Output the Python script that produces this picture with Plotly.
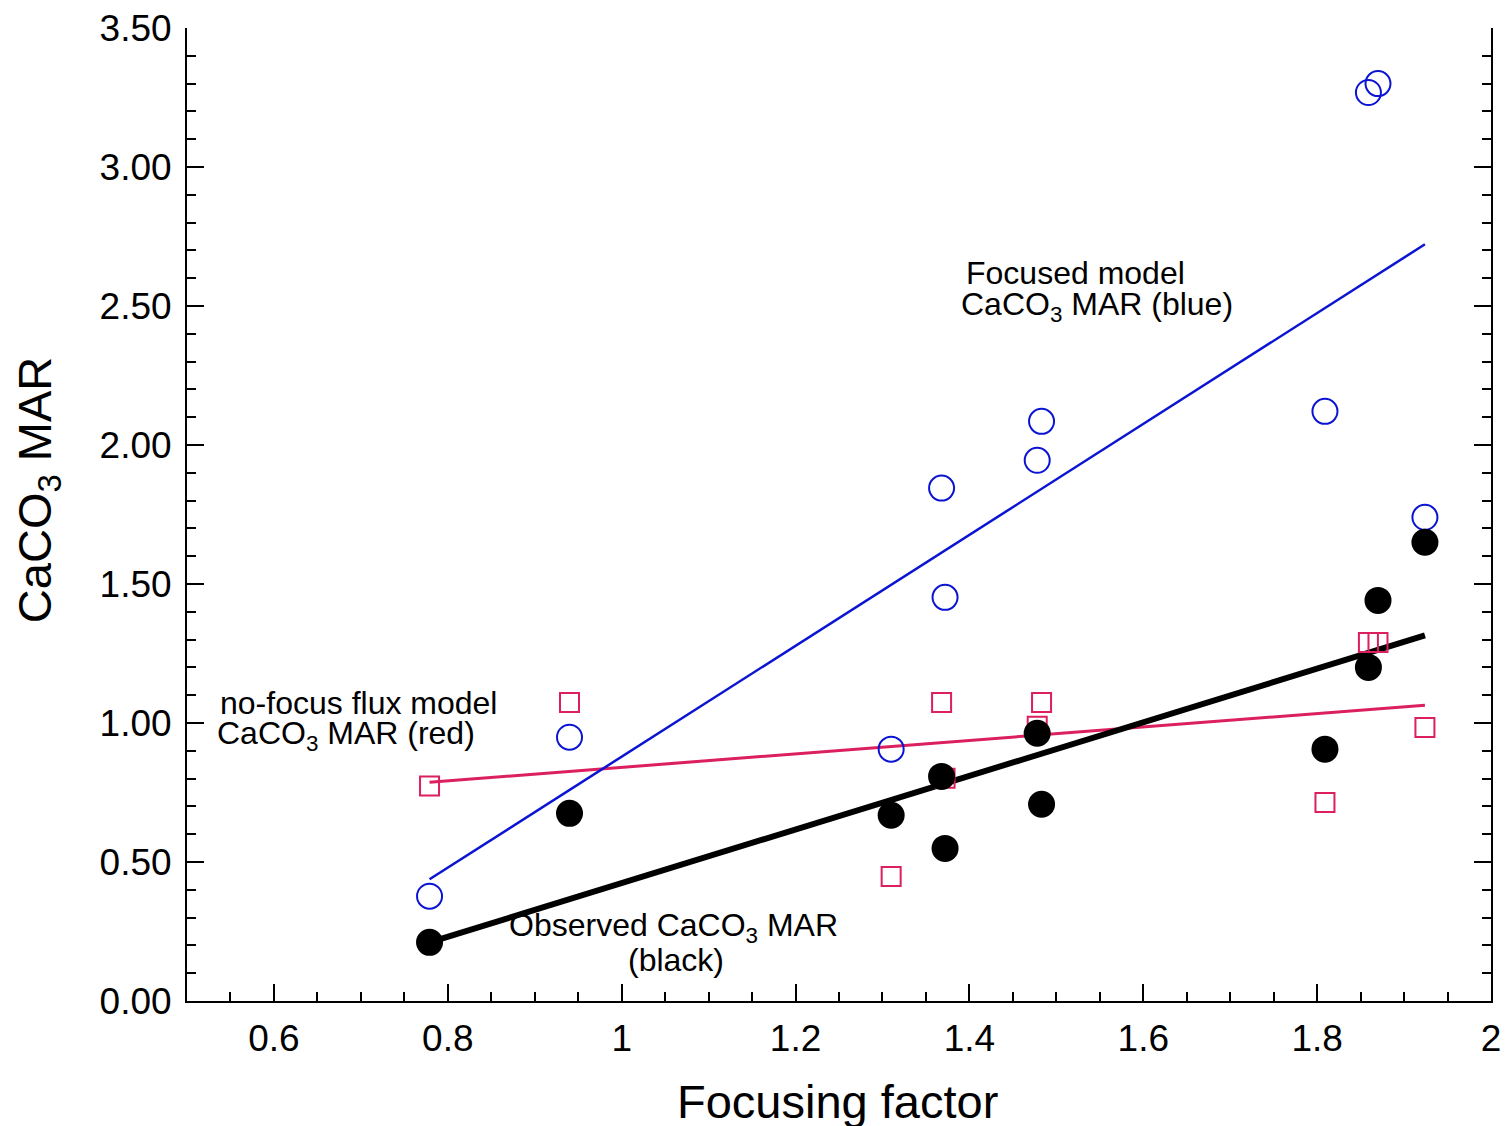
import plotly.graph_objects as go

# ---- data ----
focusing_factor = [0.779, 0.940, 1.310, 1.368, 1.372, 1.478, 1.483, 1.809, 1.859, 1.870, 1.924]
observed_mar = [0.211, 0.675, 0.668, 0.808, 0.549, 0.963, 0.708, 0.906, 1.200, 1.441, 1.650]
focused_model_mar = [0.377, 0.949, 0.906, 1.845, 1.452, 1.945, 2.085, 2.121, 3.268, 3.300, 1.740]
nofocus_model_mar = [0.773, 1.074, 0.448, 1.074, 0.801, 0.988, 1.074, 0.714, 1.290, 1.290, 0.984]

fit_x = [0.779, 1.924]
observed_fit = [0.211, 1.315]
focused_fit = [0.438, 2.722]
nofocus_fit = [0.787, 1.064]

x_tickvals = [0.6, 0.8, 1.0, 1.2, 1.4, 1.6, 1.8, 2.0]
x_ticktext = ["0.6", "0.8", "1", "1.2", "1.4", "1.6", "1.8", "2"]
y_tickvals = [0.0, 0.5, 1.0, 1.5, 2.0, 2.5, 3.0, 3.5]
y_ticktext = ["0.00", "0.50", "1.00", "1.50", "2.00", "2.50", "3.00", "3.50"]

BLUE = "#0A14D2"
RED = "#DC1F5E"
BLACK = "#000000"
FONT = "Liberation Sans, Arial, Helvetica, sans-serif"

fig = go.Figure()

# regression lines
fig.add_trace(go.Scatter(x=fit_x, y=nofocus_fit, mode="lines",
                         line=dict(color=RED, width=3), showlegend=False, hoverinfo="skip"))
fig.add_trace(go.Scatter(x=fit_x, y=focused_fit, mode="lines",
                         line=dict(color=BLUE, width=2.5), showlegend=False, hoverinfo="skip"))
fig.add_trace(go.Scatter(x=fit_x, y=observed_fit, mode="lines",
                         line=dict(color=BLACK, width=6), showlegend=False, hoverinfo="skip"))

# points
fig.add_trace(go.Scatter(x=focusing_factor, y=nofocus_model_mar, mode="markers",
                         marker=dict(symbol="square-open", size=19, color=RED,
                                     line=dict(color=RED, width=2)),
                         showlegend=False))
fig.add_trace(go.Scatter(x=focusing_factor, y=focused_model_mar, mode="markers",
                         marker=dict(symbol="circle-open", size=25, color=BLUE,
                                     line=dict(color=BLUE, width=2)),
                         showlegend=False))
fig.add_trace(go.Scatter(x=focusing_factor, y=observed_mar, mode="markers",
                         marker=dict(symbol="circle", size=27, color=BLACK,
                                     line=dict(width=0)),
                         showlegend=False))

ann_font = dict(family=FONT, size=32, color="black")
annotations = [
    dict(x=1.394, y=2.620, text="Focused model", xanchor="left", yanchor="middle"),
    dict(x=1.3885, y=2.497, text="CaCO<sub>3</sub> MAR (blue)", xanchor="left", yanchor="middle"),
    dict(x=0.5356, y=1.072, text="no-focus flux model", xanchor="left", yanchor="middle"),
    dict(x=0.532, y=0.955, text="CaCO<sub>3</sub> MAR (red)", xanchor="left", yanchor="middle"),
    dict(x=1.0598, y=0.263, text="Observed CaCO<sub>3</sub> MAR", xanchor="center", yanchor="middle"),
    dict(x=1.063, y=0.148, text="(black)", xanchor="center", yanchor="middle"),
]
for a in annotations:
    fig.add_annotation(xref="x", yref="y", showarrow=False, font=ann_font, **a)

# axis titles
fig.add_annotation(xref="paper", yref="paper", x=0.4985, y=-0.103,
                   text="Focusing factor", showarrow=False,
                   font=dict(family=FONT, size=47, color="black"),
                   xanchor="center", yanchor="middle")
fig.add_annotation(xref="paper", yref="paper", x=-0.1143, y=0.525,
                   text="CaCO<sub>3</sub> MAR", showarrow=False, textangle=-90,
                   font=dict(family=FONT, size=47, color="black"),
                   xanchor="center", yanchor="middle")

# page body has an 8px default margin, so the figure is 8px smaller and margins shifted
fig.update_layout(
    width=1502, height=1118,
    margin=dict(l=179, r=19, t=20, b=125, autoexpand=False),
    paper_bgcolor="white", plot_bgcolor="white",
    font=dict(family=FONT, color="black"),
    showlegend=False,
)
fig.update_xaxes(
    range=[0.5, 2.0], tickvals=x_tickvals, ticktext=x_ticktext,
    automargin=False,
    showgrid=False, zeroline=False,
    showline=True, linecolor="black", linewidth=2, mirror=False,
    ticks="inside", ticklen=17, tickwidth=2, tickcolor="black",
    tickfont=dict(family=FONT, size=37, color="black"),
    ticklabelstandoff=4, ticklabeloverflow="allow",
    minor=dict(dtick=0.05, tick0=0.5, ticks="inside", ticklen=9, tickwidth=2, tickcolor="black", showgrid=False),
)
fig.update_yaxes(
    range=[0, 3.5], tickvals=y_tickvals, ticktext=y_ticktext,
    automargin=False,
    showgrid=False, zeroline=False,
    showline=True, linecolor="black", linewidth=2, mirror="ticks",
    ticks="inside", ticklen=17, tickwidth=2, tickcolor="black",
    tickfont=dict(family=FONT, size=37, color="black"),
    ticklabelstandoff=6, ticklabeloverflow="allow",
    minor=dict(dtick=0.1, tick0=0, ticks="inside", ticklen=9, tickwidth=2, tickcolor="black", showgrid=False),
)

fig.write_html("out.html")
